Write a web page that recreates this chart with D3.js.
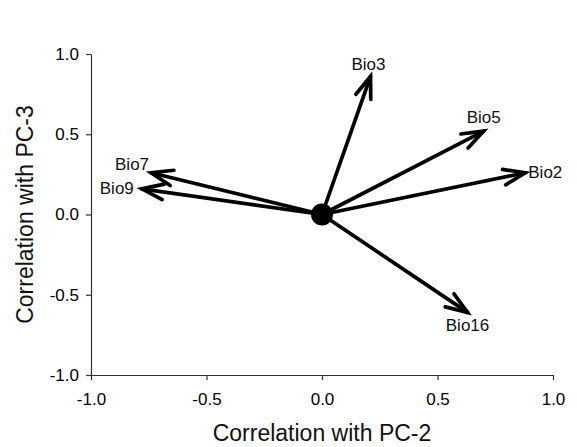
<!DOCTYPE html>
<html>
<head>
<meta charset="utf-8">
<script src="https://cdn.jsdelivr.net/npm/d3@7"></script>
<style>
  html, body { margin: 0; padding: 0; background: #fff; }
  svg { display: block; }
  text { font-family: Arial, "Liberation Sans", sans-serif; }
</style>
</head>
<body>
<svg id="chart" width="577" height="447"></svg>
<script>
// Data
const variables = ["Bio3", "Bio5", "Bio2", "Bio16", "Bio7", "Bio9"];
const pc2 = [0.21, 0.70, 0.88, 0.63, -0.74, -0.78];
const pc3 = [0.86, 0.52, 0.26, -0.61, 0.26, 0.16];
const tickValues = [-1.0, -0.5, 0.0, 0.5, 1.0];
const xTitle = "Correlation with PC-2";
const yTitle = "Correlation with PC-3";

// Label placement (style only)
const labelStyle = {
  Bio3:  { dx: -2, dy: -6, anchor: "middle" },
  Bio5:  { dx: 0,  dy: -8, anchor: "middle" },
  Bio2:  { dx: 3,  dy: 5,  anchor: "start" },
  Bio16: { dx: 0,  dy: 19, anchor: "middle" },
  Bio7:  { dx: -2, dy: -3, anchor: "end" },
  Bio9:  { dx: -8, dy: 5,  anchor: "end" }
};

const svg = d3.select("#chart");
const x = d3.scaleLinear().domain([-1, 1]).range([91, 553]);
const y = d3.scaleLinear().domain([-1, 1]).range([375, 54]);

const fmt = d => d.toFixed(1);

// Axes
const xAxis = svg.append("g")
  .attr("transform", `translate(0,${y(-1)})`)
  .call(d3.axisBottom(x).tickValues(tickValues).tickFormat(fmt).tickSize(5).tickPadding(13).tickSizeOuter(0));
const yAxis = svg.append("g")
  .attr("transform", `translate(${x(-1)},0)`)
  .call(d3.axisLeft(y).tickValues(tickValues).tickFormat(fmt).tickSize(5).tickPadding(7).tickSizeOuter(0));

[xAxis, yAxis].forEach(g => {
  g.select(".domain").attr("stroke", "#333").attr("stroke-width", 1.2);
  g.selectAll(".tick line").attr("stroke", "#333").attr("stroke-width", 1.2);
  g.selectAll(".tick text").attr("fill", "#000")
    .style("font-size", "17px").style("font-family", "Arial, 'Liberation Sans', sans-serif");
});

// Axis titles
svg.append("text")
  .attr("x", (x(-1) + x(1)) / 2)
  .attr("y", 441)
  .attr("text-anchor", "middle")
  .style("font-size", "23px")
  .attr("fill", "#111")
  .text(xTitle);

svg.append("text")
  .attr("transform", `translate(33,${(y(-1) + y(1)) / 2}) rotate(-90)`)
  .attr("text-anchor", "middle")
  .style("font-size", "23px")
  .attr("fill", "#111")
  .text(yTitle);

const data = variables.map((v, i) => ({ name: v, px: pc2[i], py: pc3[i] }));
const ox = x(0), oy = y(0);

const arrows = svg.append("g");
const headLen = 23, headAng = 20 * Math.PI / 180;

data.forEach(d => {
  const tx = x(d.px), ty = y(d.py);
  arrows.append("line")
    .attr("x1", ox).attr("y1", oy).attr("x2", tx).attr("y2", ty)
    .attr("stroke", "#000").attr("stroke-width", 3.7).attr("stroke-linecap", "round");
  const back = Math.atan2(oy - ty, ox - tx);
  const a1 = back + headAng, a2 = back - headAng;
  arrows.append("path")
    .attr("d", `M${tx + headLen * Math.cos(a1)},${ty + headLen * Math.sin(a1)} L${tx},${ty} L${tx + headLen * Math.cos(a2)},${ty + headLen * Math.sin(a2)}`)
    .attr("fill", "none").attr("stroke", "#000").attr("stroke-width", 3.7)
    .attr("stroke-linejoin", "miter").attr("stroke-linecap", "round");
  const s = labelStyle[d.name];
  svg.append("text")
    .attr("x", tx + s.dx)
    .attr("y", ty + s.dy)
    .attr("text-anchor", s.anchor)
    .style("font-size", "17px")
    .attr("fill", "#111")
    .text(d.name);
});

svg.append("circle")
  .attr("cx", ox).attr("cy", oy).attr("r", 11)
  .attr("fill", "#000");
</script>
</body>
</html>
